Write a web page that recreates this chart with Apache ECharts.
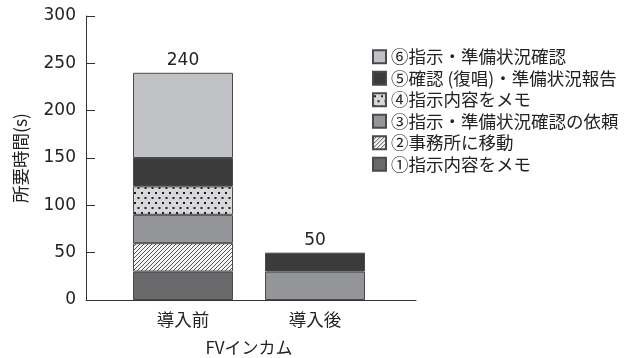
<!DOCTYPE html>
<html><head><meta charset="utf-8">
<script src="https://cdn.jsdelivr.net/npm/echarts@6/dist/echarts.min.js"></script>
<style>html,body{margin:0;padding:0;background:#fff}#c{width:634px;height:358px}</style>
</head><body><div id="c"></div>
<script>
const categories = ['導入前', '導入後'];
const seriesNames = ['①指示内容をメモ', '②事務所に移動', '③指示・準備状況確認の依頼', '④指示内容をメモ', '⑤確認 (復唱)・準備状況報告', '⑥指示・準備状況確認'];
const s1 = [30, null];
const s2 = [30, null];
const s3 = [30, 30];
const s4 = [30, null];
const s5 = [30, 20];
const s6 = [90, null];
const yTicks = [0, 50, 100, 150, 200, 250, 300];

const allSeries = [s1, s2, s3, s4, s5, s6];
const totals = categories.map((_, i) => allSeries.reduce((a, s) => a + (s[i] || 0), 0));

function hatch() {
  const c = document.createElement('canvas'); c.width = 4; c.height = 4;
  const g = c.getContext('2d');
  g.fillStyle = '#f4f4f4'; g.fillRect(0, 0, 4, 4);
  g.strokeStyle = '#555'; g.lineWidth = 1;
  g.beginPath();
  g.moveTo(-1, 5); g.lineTo(5, -1);
  g.moveTo(-1, 1); g.lineTo(1, -1);
  g.moveTo(3, 5); g.lineTo(5, 3);
  g.stroke();
  return c;
}
function dots() {
  const c = document.createElement('canvas'); c.width = 7; c.height = 10;
  const g = c.getContext('2d');
  g.fillStyle = '#d8d8da'; g.fillRect(0, 0, 7, 10);
  g.fillStyle = '#1e1e1e';
  g.fillRect(1, 2, 2, 2);
  g.fillRect(4.5, 7, 2, 2);
  return c;
}
const colors = [
  '#69696c',
  { image: hatch(), repeat: 'repeat' },
  '#949598',
  { image: dots(), repeat: 'repeat' },
  '#3b3b3b',
  '#c1c2c6'
];
const numFont = "'DejaVu Sans', 'Noto Sans CJK JP', sans-serif";
const jpFont = "'Noto Sans CJK JP', sans-serif";
const txt = '#222';

const series = allSeries.map((s, k) => ({
  name: seriesNames[k],
  type: 'bar',
  stack: 'a',
  barWidth: 100,
  xAxisIndex: 0, yAxisIndex: 0,
  data: s,
  itemStyle: { color: colors[k], borderColor: '#4a4a4a', borderWidth: 1 },
  emphasis: { disabled: true }
}));
series.push({
  name: 'total', type: 'bar', stack: 'a', barWidth: 100,
  xAxisIndex: 0, yAxisIndex: 0,
  data: categories.map(() => 0),
  itemStyle: { color: 'rgba(0,0,0,0)', borderWidth: 0 },
  label: { show: true, position: 'top', distance: 4, color: txt, fontSize: 17, fontFamily: numFont,
           formatter: p => String(totals[p.dataIndex]) },
  emphasis: { disabled: true }
});

const chart = echarts.init(document.getElementById('c'));
chart.setOption({
  animation: false,
  grid: [
    { left: 117, top: 16, width: 264, height: 284, outerBoundsMode: 'none', containLabel: false },
    { left: 86, top: 16, width: 330, height: 284, outerBoundsMode: 'none', containLabel: false }
  ],
  legend: {
    orient: 'vertical', left: 367, top: 43,
    data: seriesNames.slice().reverse(),
    icon: 'rect',
    itemWidth: 13, itemHeight: 13, itemGap: 4,
    textStyle: { fontSize: 17.5, fontFamily: jpFont, color: txt },
    selectedMode: false
  },
  xAxis: [
    {
      gridIndex: 0, type: 'category', data: categories, position: 'bottom',
      axisLine: { show: false }, axisTick: { show: false },
      axisLabel: { margin: 11, fontSize: 17.5, fontFamily: jpFont, color: txt },
      name: 'FVインカム', nameLocation: 'middle', nameGap: 39,
      nameTextStyle: { fontSize: 17, fontFamily: jpFont, color: txt }
    },
    {
      gridIndex: 1, type: 'value', min: 0, max: 1, position: 'bottom',
      axisLine: { show: true, onZero: false, lineStyle: { color: '#333', width: 1 } },
      axisTick: { show: false }, axisLabel: { show: false }, splitLine: { show: false }
    }
  ],
  yAxis: [
    {
      gridIndex: 0, type: 'value', min: 0, max: 300, interval: 50, offset: 31, position: 'left',
      splitLine: { show: false },
      axisLine: { show: true, lineStyle: { color: '#333', width: 1 } },
      axisTick: { show: true, inside: true, length: 9, lineStyle: { color: '#333', width: 1 } },
      axisLabel: { margin: 10, fontSize: 17, fontFamily: numFont, color: txt,
                   formatter: v => yTicks.includes(v) ? String(v) : '' },
      name: '所要時間(s)', nameLocation: 'middle', nameGap: 57,
      nameTextStyle: { fontSize: 17.5, fontFamily: jpFont, color: txt }
    },
    {
      gridIndex: 1, type: 'value', min: 0, max: 1, position: 'left',
      axisLine: { show: false }, axisTick: { show: false }, axisLabel: { show: false }, splitLine: { show: false }
    }
  ],
  series: series
});
</script></body></html>
